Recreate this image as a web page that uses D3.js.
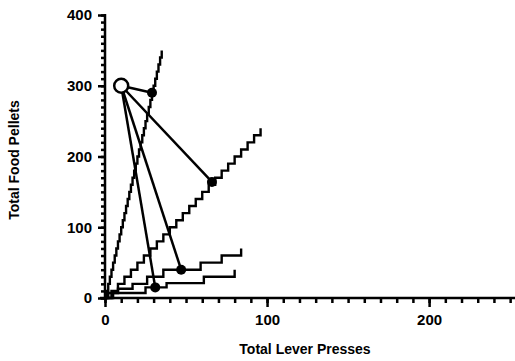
<!DOCTYPE html>
<html>
<head>
<meta charset="utf-8">
<script src="https://cdn.jsdelivr.net/npm/d3@7"></script>
<style>
  body { margin: 0; background: #fff; }
  svg text { font-family: "Liberation Sans", Arial, Helvetica, sans-serif; font-weight: bold; fill: #000; }
</style>
</head>
<body>
<div id="chart"></div>
<script>
// cumulative records: [lever presses, food pellets]
var steepRecord = [[0,0],[1,10],[2,20],[3,30],[4,40],[5,50],[6,60],[7,70],[8,80],[9,90],[10,100],
  [11,110],[12,120],[13,130],[14,140],[15,150],[16,160],[17,170],[18,180],[19,190],[20,200],
  [21,210],[22,220],[23,230],[24,240],[25,250],[26,260],[27,270],[28,280],[29,290],[30,300],
  [31,310],[32,320],[33,330],[34,340],[35,350]];
var middleRecord = [[0,0],[4,10],[8,20],[12,30],[16,40],[20,50],[24,60],[28,70],[32,80],[36,90],
  [40,100],[44,110],[48,120],[52,130],[56,140],[60,150],[64,160],[68,170],[72,180],[76,190],
  [80,200],[84,210],[88,220],[92,230],[96,240]];
var upperFlatRecord = [[0,0],[2,7],[8,13],[17,20],[26,30],[36,40],[59,50],[72,60],[84,70]];
var lowerFlatRecord = [[0,0],[5,7],[25,15],[38,21],[61,30],[80,40]];

// start point and the points reached on each record
var startPoint = [10, 300];
var endPoints = [[29, 290], [66, 164], [47, 40], [31, 15]];

var xMajor = [0, 100, 200];
var yMajor = [0, 100, 200, 300, 400];

var svgWidth = 515, svgHeight = 361;

var svg = d3.select("#chart").append("svg")
    .attr("width", svgWidth)
    .attr("height", svgHeight);

var x = d3.scaleLinear().domain([0, 253]).range([105, 515]);
var y = d3.scaleLinear().domain([0, 400]).range([298, 15]);

// x axis
var xMinorAxis = d3.axisBottom(x).tickValues(d3.range(0, 260, 10)).tickSize(5).tickFormat("");
var xAxis = d3.axisBottom(x).tickValues(xMajor).tickSize(9).tickPadding(7);

var gxm = svg.append("g").attr("transform", "translate(0,298)").call(xMinorAxis);
var gx = svg.append("g").attr("transform", "translate(0,298)").call(xAxis);

// y axis
var yMinorAxis = d3.axisLeft(y).tickValues(d3.range(0, 410, 10)).tickSize(4).tickFormat("");
var yAxis = d3.axisLeft(y).tickValues(yMajor).tickSize(7).tickPadding(6);

var gym = svg.append("g").attr("transform", "translate(105,0)").call(yMinorAxis);
var gy = svg.append("g").attr("transform", "translate(105,0)").call(yAxis);

[gxm, gx, gym, gy].forEach(function (g) {
  g.select(".domain").remove();
  g.selectAll(".tick line").attr("stroke", "#000").attr("stroke-width", 2.5);
  g.selectAll(".tick text").style("font-size", "15px").attr("fill", "#000");
});

svg.append("line").attr("x1", 100).attr("x2", 515).attr("y1", 298).attr("y2", 298)
    .attr("stroke", "#000").attr("stroke-width", 2.5);
svg.append("line").attr("x1", 105).attr("x2", 105).attr("y1", 14).attr("y2", 300)
    .attr("stroke", "#000").attr("stroke-width", 2.5);

// cumulative records
var stepLine = d3.line()
    .x(function (d) { return x(d[0]); })
    .y(function (d) { return y(d[1]); })
    .curve(d3.curveStepAfter);

[steepRecord, middleRecord, upperFlatRecord, lowerFlatRecord].forEach(function (rec) {
  svg.append("path")
      .attr("d", stepLine(rec))
      .attr("fill", "none")
      .attr("stroke", "#000")
      .attr("stroke-width", 2.4);
});

// lines from start point to each record
svg.selectAll(".link")
    .data(endPoints)
    .enter()
    .append("line")
    .attr("x1", x(startPoint[0]))
    .attr("y1", y(startPoint[1]))
    .attr("x2", function (d) { return x(d[0]); })
    .attr("y2", function (d) { return y(d[1]); })
    .attr("stroke", "#000")
    .attr("stroke-width", 2.5);

svg.selectAll(".dot")
    .data(endPoints)
    .enter()
    .append("circle")
    .attr("cx", function (d) { return x(d[0]); })
    .attr("cy", function (d) { return y(d[1]); })
    .attr("r", 5)
    .attr("fill", "#000");

svg.append("circle")
    .attr("cx", x(startPoint[0]))
    .attr("cy", y(startPoint[1]))
    .attr("r", 7)
    .attr("fill", "#fff")
    .attr("stroke", "#000")
    .attr("stroke-width", 2.5);

// axis titles
svg.append("text")
    .attr("x", 305)
    .attr("y", 354)
    .attr("text-anchor", "middle")
    .style("font-size", "14px")
    .text("Total Lever Presses");

svg.append("text")
    .attr("transform", "translate(19,160) rotate(-90)")
    .attr("text-anchor", "middle")
    .style("font-size", "14px")
    .text("Total Food Pellets");
</script>
</body>
</html>
